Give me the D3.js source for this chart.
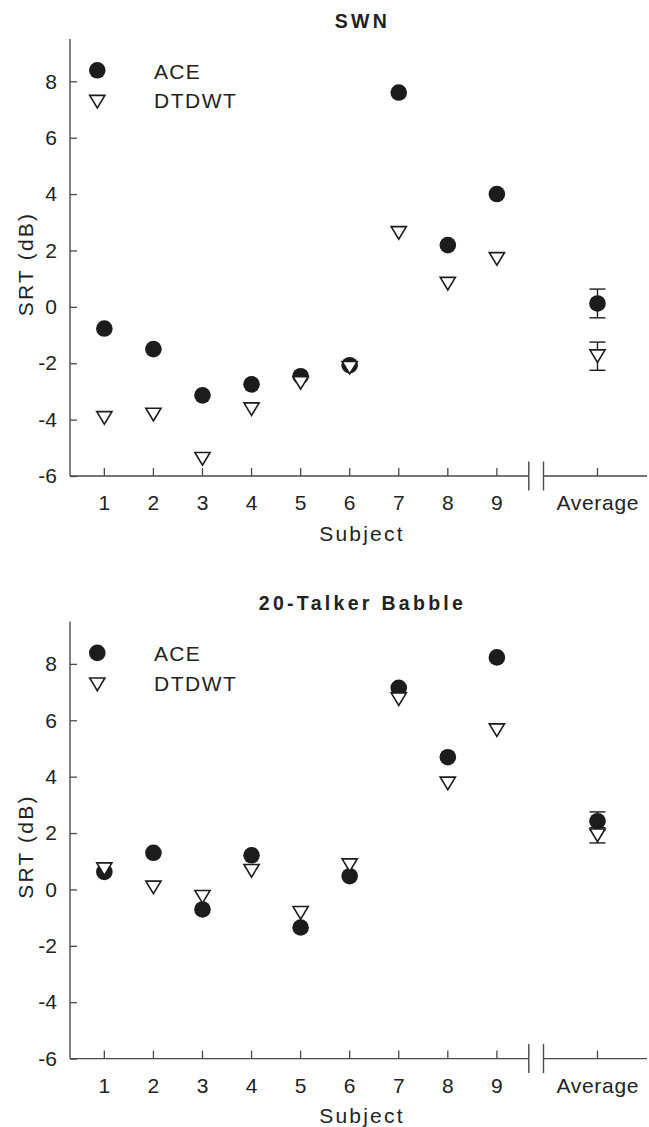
<!DOCTYPE html>
<html>
<head>
<meta charset="utf-8">
<script src="https://cdn.jsdelivr.net/npm/d3@7"></script>
<style>
  html, body { margin: 0; padding: 0; background: #fff; }
  svg { display: block; }
  text { font-family: "Liberation Sans", Arial, Helvetica, sans-serif; fill: #222; }
</style>
</head>
<body>
<svg id="chart" width="649" height="1127"></svg>
<script>
// ---------------- data ----------------
const subjects = ["1", "2", "3", "4", "5", "6", "7", "8", "9"];
const subjectPos = [1, 2, 3, 4, 5, 6, 7, 8, 9];
const averageLabel = "Average";
const averagePos = 11.05;
const panelTitles = ["SWN", "20-Talker Babble"];
const seriesNames = ["ACE", "DTDWT"];
const yTicks = [-6, -4, -2, 0, 2, 4, 6, 8];

const aceSWN      = [-0.77, -1.50, -3.14, -2.75, -2.46, -2.07, 7.60, 2.19, 4.00];
const dtdwtSWN    = [-3.94, -3.82, -5.39, -3.63, -2.70, -2.16, 2.62, 0.82, 1.70];
const aceBabble   = [0.62, 1.30, -0.71, 1.21, -1.35, 0.47, 7.15, 4.69, 8.23];
const dtdwtBabble = [0.72, 0.07, -0.26, 0.66, -0.83, 0.86, 6.75, 3.76, 5.65];

// averages per panel [SWN, Babble] with error bars
const avgACE   = [0.12, 2.42];
const errACE   = [0.51, 0.33];
const avgDTDWT = [-1.75, 1.92];
const errDTDWT = [0.50, 0.27];

// ---------------- layout ----------------
const svg = d3.select("#chart");
const panelOffset = 582.6;
const ink = "#1c1c1c";
const axisColor = "#4a4a4a";

const x = d3.scaleLinear().domain([0.3, 12.1]).range([70, 649]);
const y = d3.scaleLinear().domain([-6, 9.5]).range([476, 39]);
const breakA = 9.65, breakB = 9.95;

const circleR = 8.3;
const triPath = (() => {
  const hw = 7.6, hh = 6.3;
  return `M${-hw},${-hh}L${hw},${-hh}L0,${hh}Z`;
})();

const panels = [
  { title: panelTitles[0], ace: aceSWN, dtdwt: dtdwtSWN },
  { title: panelTitles[1], ace: aceBabble, dtdwt: dtdwtBabble }
];

panels.forEach((p, pi) => {
  const g = svg.append("g").attr("transform", `translate(0,${pi * panelOffset})`);

  // title
  g.append("text")
    .attr("x", 362.5).attr("y", 20.7)
    .attr("text-anchor", "middle").attr("dominant-baseline", "central")
    .style("font-size", "19.5px").style("font-weight", "bold")
    .style("letter-spacing", "3.3px")
    .text(p.title);

  // y axis
  const yAxis = d3.axisLeft(y).tickValues(yTicks).tickSize(-7).tickPadding(13)
    .tickFormat(d => d3.format("d")(d).replace("−", "-"));
  const ya = g.append("g").attr("transform", `translate(${x.range()[0]},0)`).call(yAxis);
  ya.select(".domain").attr("stroke", axisColor).attr("stroke-width", 1.4)
    .attr("d", `M0,${y(-6)}V${y.range()[1]}`);
  ya.selectAll(".tick line").attr("stroke", axisColor).attr("stroke-width", 1.3);
  ya.selectAll(".tick text").style("font-size", "21px").attr("fill", "#222")
    .style("font-family", "'Liberation Sans', Arial, sans-serif");

  // x axis (with break)
  const x0 = x.range()[0], x1 = x.range()[1];
  const yb = y(-6);
  const xaxisG = g.append("g");
  xaxisG.append("path")
    .attr("d", `M${x0},${yb}H${x(breakA)}M${x(breakB)},${yb}H${x1 - 2}`)
    .attr("stroke", axisColor).attr("stroke-width", 1.4).attr("fill", "none");
  [breakA, breakB].forEach(b => {
    xaxisG.append("line")
      .attr("x1", x(b)).attr("x2", x(b))
      .attr("y1", yb - 14.5).attr("y2", yb + 14.5)
      .attr("stroke", axisColor).attr("stroke-width", 1.4);
  });
  const tickPos = subjectPos.concat([averagePos]);
  const tickLab = subjects.concat([averageLabel]);
  xaxisG.selectAll("line.xt").data(tickPos).enter().append("line")
    .attr("class", "xt")
    .attr("x1", d => x(d)).attr("x2", d => x(d))
    .attr("y1", yb).attr("y2", yb - 8)
    .attr("stroke", axisColor).attr("stroke-width", 1.3);
  xaxisG.selectAll("text.xl").data(tickPos).enter().append("text")
    .attr("class", "xl")
    .attr("x", (d, i) => x(d) + (i === tickPos.length - 1 ? 0.35 : 0))
    .attr("y", 502.5)
    .attr("text-anchor", "middle").attr("dominant-baseline", "central")
    .style("font-size", "21px")
    .style("letter-spacing", (d, i) => i === tickPos.length - 1 ? "0.7px" : "0px")
    .text((d, i) => tickLab[i]);

  // axis titles
  g.append("text")
    .attr("x", 362).attr("y", 533)
    .attr("text-anchor", "middle").attr("dominant-baseline", "central")
    .style("font-size", "21px").style("letter-spacing", "2.2px")
    .text("Subject");
  g.append("text")
    .attr("transform", `translate(25,${264}) rotate(-90)`)
    .attr("text-anchor", "middle").attr("dominant-baseline", "central")
    .style("font-size", "21px").style("letter-spacing", "2.2px")
    .text("SRT (dB)");

  // legend
  g.append("circle").attr("cx", 97.3).attr("cy", 70.3).attr("r", circleR).attr("fill", ink);
  g.append("path").attr("d", triPath).attr("transform", "translate(97.3,101.7)")
    .attr("fill", "#fff").attr("stroke", ink).attr("stroke-width", 1.6);
  g.append("text").attr("x", 154).attr("y", 71).attr("dominant-baseline", "central")
    .style("font-size", "21px").style("letter-spacing", "1.3px").text(seriesNames[0]);
  g.append("text").attr("x", 154).attr("y", 100.5).attr("dominant-baseline", "central")
    .style("font-size", "21px").style("letter-spacing", "1.5px").text(seriesNames[1]);

  // error bars for averages
  const errs = [
    { v: avgACE[pi], e: errACE[pi] },
    { v: avgDTDWT[pi], e: errDTDWT[pi] }
  ];
  errs.forEach(eb => {
    const xc = x(averagePos);
    g.append("line").attr("x1", xc).attr("x2", xc)
      .attr("y1", y(eb.v + eb.e)).attr("y2", y(eb.v - eb.e))
      .attr("stroke", ink).attr("stroke-width", 1.4);
    [eb.v + eb.e, eb.v - eb.e].forEach(ev => {
      g.append("line").attr("x1", xc - 8).attr("x2", xc + 8)
        .attr("y1", y(ev)).attr("y2", y(ev))
        .attr("stroke", ink).attr("stroke-width", 1.4);
    });
  });

  // ACE points
  const acePts = p.ace.map((v, i) => ({ x: subjectPos[i], v }));
  acePts.push({ x: averagePos, v: avgACE[pi] });
  g.selectAll("circle.ace").data(acePts).enter().append("circle")
    .attr("class", "ace")
    .attr("cx", d => x(d.x)).attr("cy", d => y(d.v))
    .attr("r", circleR).attr("fill", ink);

  // DTDWT points
  const dPts = p.dtdwt.map((v, i) => ({ x: subjectPos[i], v }));
  dPts.push({ x: averagePos, v: avgDTDWT[pi] });
  g.selectAll("path.dt").data(dPts).enter().append("path")
    .attr("class", "dt")
    .attr("d", triPath)
    .attr("transform", d => `translate(${x(d.x)},${y(d.v)})`)
    .attr("fill", "#fff").attr("stroke", ink).attr("stroke-width", 1.6);
});
</script>
</body>
</html>
